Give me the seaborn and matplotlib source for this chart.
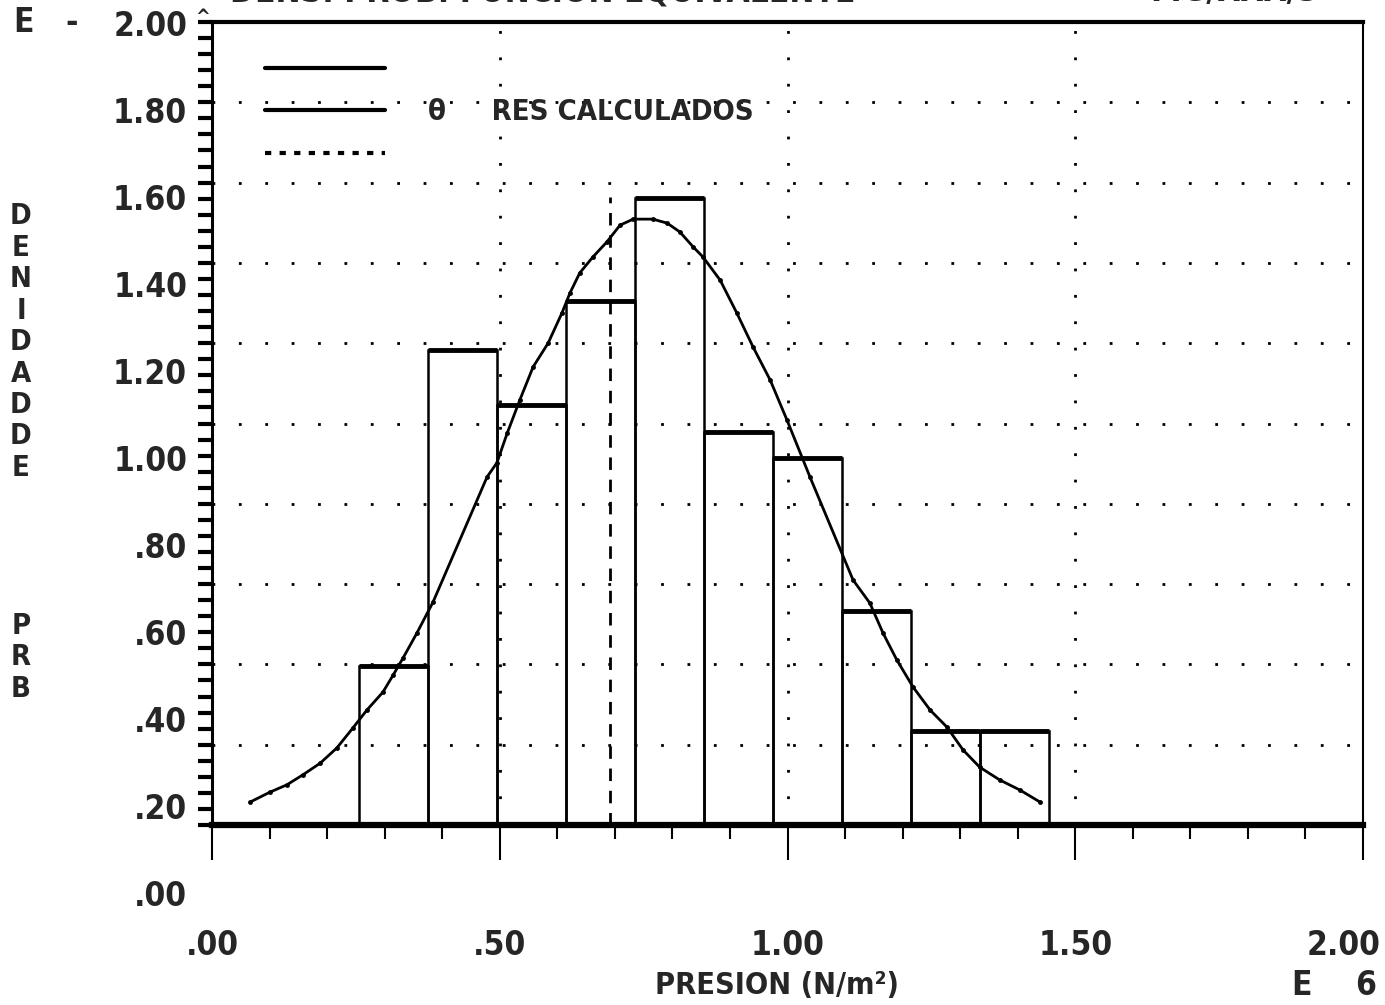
import numpy as np
import matplotlib
matplotlib.use('Agg')
import matplotlib.pyplot as plt
import matplotlib.transforms as mtransforms
from matplotlib.lines import Line2D
from matplotlib.ticker import FuncFormatter, MultipleLocator
import seaborn as sns

# histogram (bin edges and heights)
bin_edges = [0.255, 0.375, 0.495, 0.615, 0.735, 0.855, 0.975, 1.095, 1.215, 1.335, 1.455]
bar_heights = [0.396, 1.183, 1.046, 1.305, 1.562, 0.979, 0.914, 0.533, 0.234, 0.234]

# calculated curve
curve_x = [0.066, 0.101, 0.130, 0.158, 0.188, 0.217, 0.245, 0.269, 0.297, 0.315,
           0.332, 0.356, 0.384, 0.478, 0.495, 0.513, 0.535, 0.558, 0.584, 0.608,
           0.622, 0.639, 0.662, 0.686, 0.709, 0.732, 0.766, 0.791, 0.813, 0.836,
           0.853, 0.883, 0.912, 0.940, 0.970, 0.999, 1.039, 1.114, 1.143, 1.166,
           1.190, 1.218, 1.248, 1.277, 1.305, 1.334, 1.369, 1.404, 1.439]
curve_y = [0.057, 0.082, 0.100, 0.125, 0.154, 0.192, 0.242, 0.286, 0.331, 0.374,
           0.416, 0.478, 0.555, 0.867, 0.902, 0.976, 1.059, 1.141, 1.200, 1.275,
           1.325, 1.375, 1.415, 1.452, 1.494, 1.509, 1.509, 1.499, 1.477, 1.440,
           1.415, 1.357, 1.275, 1.191, 1.108, 1.009, 0.867, 0.610, 0.553, 0.478,
           0.411, 0.344, 0.286, 0.244, 0.187, 0.144, 0.112, 0.087, 0.057]

# dashed mean line
mean_x = 0.692
mean_top = 1.565

y_ticks = [0.0, 0.2, 0.4, 0.6, 0.8, 1.0, 1.2, 1.4, 1.6, 1.8, 2.0]
x_ticks = [0.0, 0.5, 1.0, 1.5, 2.0]
ylabel_letters = list("DENIDADDE") + ["", "", "", ""] + list("PRB")
legend_labels = [" ", "θ     RES CALCULADOS", " "]

sns.set_theme(style='white')
plt.rcParams['font.family'] = ['DejaVu Sans']
plt.rcParams['font.stretch'] = 'condensed'
plt.rcParams['font.weight'] = 'bold'

W, H = 1385, 1005
fig = plt.figure(figsize=(W / 100, H / 100), dpi=100)


def box(x0, y0, x1, y1):
    # pixel box (top-left origin) -> figure fraction rect
    return [x0 / W, 1 - y1 / H, (x1 - x0) / W, (y1 - y0) / H]


fmt = FuncFormatter(lambda v, p: f"{v:.2f}".lstrip('0'))
fs = 24

# the y labels of the original are printed on their own (shifted) scale
lab = fig.add_axes(box(212, 23, 1363, 893))
lab.set_ylim(0, 2)
lab.set_yticks(y_ticks)
lab.yaxis.set_major_formatter(fmt)
lab.tick_params(axis='y', length=0, pad=18, labelsize=fs, left=True)
lab.set_xticks([])
for s in lab.spines.values():
    s.set_visible(False)
lab.patch.set_alpha(0)

ax = fig.add_axes(box(212, 22, 1363, 825))
ax.patch.set_alpha(0)

centers = [(a + b) / 2 for a, b in zip(bin_edges[:-1], bin_edges[1:])]
sns.histplot(x=centers, weights=bar_heights, bins=bin_edges, fill=False,
             color='black', linewidth=1.8, ax=ax)
ax.hlines(bar_heights, bin_edges[:-1], bin_edges[1:], colors='black', lw=3.5)

sns.lineplot(x=curve_x, y=curve_y, sort=False, estimator=None, color='black',
             lw=2, marker='o', markersize=3.5, markeredgewidth=0, ax=ax)

ax.vlines(mean_x, 0, mean_top, colors='black', lw=2, linestyles=(0, (4.5, 3.5)))

ax.set_xlim(0, 2)
ax.set_ylim(0, 2)
ax.set_xticks(x_ticks)
ax.set_yticks(y_ticks)
ax.xaxis.set_major_formatter(fmt)
ax.xaxis.set_minor_locator(MultipleLocator(0.1))
ax.yaxis.set_minor_locator(MultipleLocator(0.04))
ax.grid(True, which='major', color='black', lw=2, linestyle=(0, (1, 8.5)))
ax.tick_params(axis='y', which='both', direction='out', length=10, width=3,
               color='black', left=True, labelleft=False)
ax.tick_params(axis='x', which='major', direction='out', length=25, width=1.5,
               color='black', bottom=True, labelsize=fs, pad=50)
ax.tick_params(axis='x', which='minor', direction='out', length=10, width=1.5,
               color='black', bottom=True)
ax.set_ylabel('')
ax.set_xlabel('PRESION (N/m²)', fontsize=22, fontweight='bold')
ax.xaxis.set_label_coords(0.491, -0.182)

# last x label sits against the right edge of the page
last = ax.get_xticklabels()[-1]
last.set_transform(last.get_transform() +
                   mtransforms.ScaledTranslation(-0.19, 0, fig.dpi_scale_trans))

for side, lw in [('left', 2.2), ('bottom', 4.5), ('top', 3), ('right', 1.5)]:
    ax.spines[side].set_visible(True)
    ax.spines[side].set_color('black')
    ax.spines[side].set_linewidth(lw)

handles = [Line2D([], [], color='black', lw=3),
           Line2D([], [], color='black', lw=3),
           Line2D([], [], color='black', lw=3, ls=(0, (1.5, 2)))]
ax.legend(handles, legend_labels, loc='upper left', bbox_to_anchor=(0.046, 0.958),
          frameon=False, fontsize=21, handlelength=4.1, handletextpad=1.5,
          labelspacing=0.5, borderpad=0, borderaxespad=0)

# stacked y label
for i, ch in enumerate(ylabel_letters):
    fig.text(21 / W, 1 - (216 + 31.5 * i) / H, ch, ha='center', va='center', fontsize=21)

fig.text(14 / W, 1 - 23 / H, 'E   -', ha='left', va='center', fontsize=fs)
fig.text(203 / W, 1 - 18 / H, '^', ha='center', va='center', fontsize=14)
fig.text(1302 / W, 1 - 985 / H, 'E', ha='center', va='center', fontsize=fs)
fig.text(1366 / W, 1 - 985 / H, '6', ha='center', va='center', fontsize=fs)

# title line, cut off by the top of the scan
fig.text(230 / W, 1 - 8 / H, 'DENS. PROB. FUNCION EQUIVALENTE', ha='left', va='bottom', fontsize=fs)
fig.text(1150 / W, 1 - 8 / H, 'FIG/XXX/3', ha='left', va='bottom', fontsize=fs)

fig.savefig('out.png', dpi=100, facecolor='white')
